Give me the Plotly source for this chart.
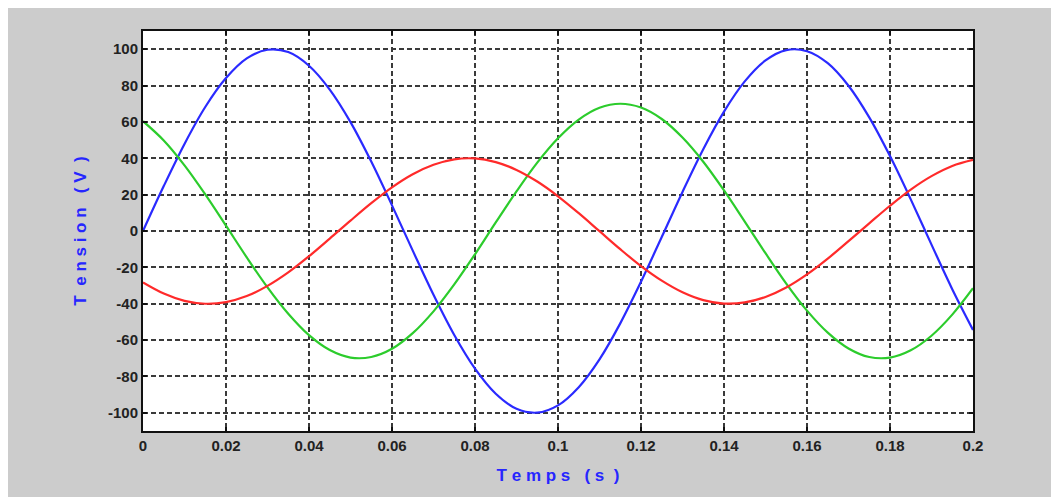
import plotly.graph_objects as go

# Time samples (s)
t = [round(0.005 * i, 3) for i in range(41)]

# Voltages (V)
blue_v = [0, 24.7, 47.9, 68.2, 84.1, 94.9, 99.7, 98.4, 90.9, 77.8, 59.9, 38.2, 14.1,
          -10.8, -35.1, -57.2, -75.7, -89.5, -97.8, -99.9, -95.9, -85.9, -70.6, -50.8,
          -27.9, -3.3, 21.5, 45.0, 65.7, 82.3, 93.8, 99.5, 98.9, 92.3, 79.9, 62.5, 41.2,
          17.4, -7.5, -32.0, -54.4]
green_v = [60.4, 49.8, 36.1, 20.1, 2.9, -14.5, -31.0, -45.5, -57.3, -65.5, -69.6, -69.3,
           -64.8, -56.2, -44.2, -29.4, -12.8, 4.7, 21.8, 37.6, 51.0, 61.3, 67.8, 70.0,
           67.9, 61.6, 51.4, 38.1, 22.3, 5.2, -12.2, -28.9, -43.8, -55.9, -64.6, -69.3,
           -69.6, -65.6, -57.6, -46.0, -31.5]
red_v = [-28.3, -34.4, -38.4, -40.0, -39.1, -35.8, -30.2, -22.8, -13.9, -4.2, 5.7, 15.3,
         24.0, 31.2, 36.4, 39.4, 39.9, 37.9, 33.6, 27.2, 19.1, 9.8, -0.1, -10.0, -19.3,
         -27.3, -33.7, -38.0, -39.9, -39.3, -36.3, -31.1, -23.9, -15.2, -5.6, 4.2, 13.9,
         22.8, 30.2, 35.8, 39.1]

x_ticks = [0, 0.02, 0.04, 0.06, 0.08, 0.1, 0.12, 0.14, 0.16, 0.18, 0.2]
x_labels = ["0", "0.02", "0.04", "0.06", "0.08", "0.1", "0.12", "0.14", "0.16", "0.18", "0.2"]
y_ticks = [-100, -80, -60, -40, -20, 0, 20, 40, 60, 80, 100]
y_labels = [str(v) for v in y_ticks]

NB = "\u00a0"
x_title = "<b>" + NB.join("Temps") + NB * 3 + "(" + NB + "s" + NB * 2 + ")</b>"
y_title = "<b>T" + NB * 2 + NB.join("ension") + NB * 3 + "(" + NB + "V" + NB * 2 + ")</b>"

fig = go.Figure()
for vals, col in [(blue_v, "#2a2aff"), (green_v, "#2ccc2c"), (red_v, "#ff2a2a")]:
    fig.add_trace(go.Scatter(x=t, y=vals, mode="lines",
                             line=dict(color=col, width=2.2, shape="spline"),
                             showlegend=False, hoverinfo="skip"))

tick_font = dict(family="Liberation Sans, Arial, sans-serif", size=15, color="#222222",
                 weight="bold")
title_font = dict(family="Liberation Sans, Arial, sans-serif", size=17, color="#2626ff")

axis_common = dict(
    showline=True, linecolor="#111111", linewidth=2, mirror="ticks",
    ticks="inside", ticklen=4, tickcolor="#111111", tickwidth=1.5,
    showgrid=True, gridcolor="#3a3a3a", gridwidth=1.6, griddash="5px,3px",
    zeroline=False, tickfont=tick_font,
)

fig.update_xaxes(range=[0, 0.2], tickvals=x_ticks, ticktext=x_labels,
                 title=dict(text=x_title, standoff=16, font=title_font),
                 **axis_common)
fig.update_yaxes(range=[-110, 110], tickvals=y_ticks, ticktext=y_labels,
                 title=dict(text=y_title, standoff=17, font=title_font),
                 **axis_common)

fig.update_layout(
    width=1051, height=489,
    margin=dict(l=135, r=86, t=23, b=66),
    paper_bgcolor="#cccccc", plot_bgcolor="white",
)

fig.write_html("out.html")
